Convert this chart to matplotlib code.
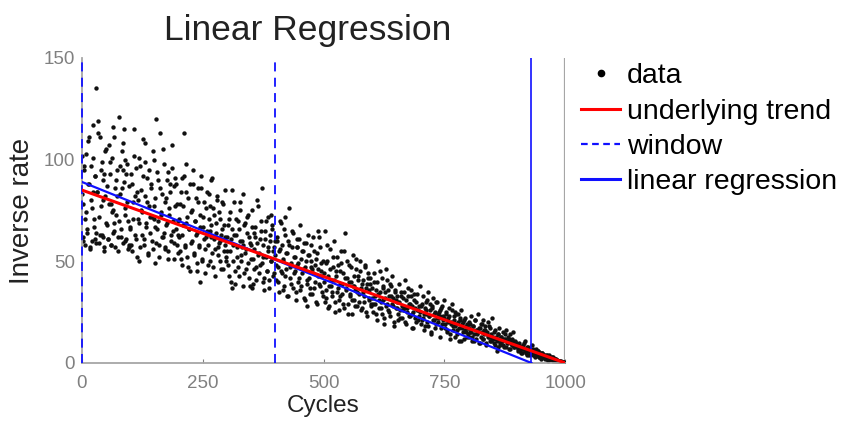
import matplotlib
matplotlib.use("Agg")
import matplotlib.pyplot as plt
from matplotlib.lines import Line2D

plt.rcParams['font.family'] = ['Liberation Sans', 'DejaVu Sans']

# scatter data (cycles, inverse rate)
x_0_100 = [2, 4, 6, 8, 9, 11, 13, 14, 16, 18, 19, 21, 23, 25, 27, 28, 30, 32, 33, 35,
           37, 39, 41, 42, 44, 46, 48, 50, 51, 53, 55, 57, 59, 60, 62, 64, 66, 68, 69, 71,
           73, 75, 77, 78, 80, 82, 84, 86, 87, 89, 91, 93, 95, 96, 98, 3, 27, 45, 66, 88,
           0, 3, 5, 7, 10, 12, 15, 17, 20, 22, 24, 26, 29, 31, 34, 36, 38, 40, 43, 45,
           47, 49, 52, 54, 56, 58, 61, 63, 65, 67, 70, 72, 74, 76, 79, 81, 83, 85, 88, 90,
           92, 94, 97, 99, 1, 22, 43, 64, 85, 97]
y_0_100 = [62, 95, 58, 103, 74, 66, 88, 111, 57, 80, 97, 60, 117, 71, 92, 135, 64, 84, 119, 59,
           111, 77, 99, 63, 90, 55, 82, 105, 68, 61, 107, 93, 58, 78, 101, 64, 111, 86, 57, 73,
           95, 62, 121, 83, 66, 104, 59, 89, 115, 76, 61, 98, 70, 56, 87, 78, 61, 93, 69, 100,
           83, 60, 97, 71, 64, 109, 88, 56, 76, 101, 67, 92, 59, 84, 113, 72, 63, 95, 80, 57,
           104, 69, 87, 61, 78, 99, 58, 74, 116, 65, 90, 82, 55, 70, 97, 62, 86, 108, 73, 60,
           93, 79, 57, 67, 102, 84, 62, 75, 95, 58]

x_100_200 = [101, 103, 105, 107, 109, 111, 113, 115, 117, 119, 121, 123, 125, 127, 129, 131, 133, 135, 137, 139,
             141, 143, 145, 147, 149, 151, 153, 155, 157, 159, 161, 163, 165, 167, 169, 171, 173, 175, 177, 179,
             181, 183, 185, 187, 189, 191, 193, 195, 197, 199, 110, 130, 150, 170, 190,
             100, 102, 104, 106, 108, 112, 114, 116, 118, 120, 122, 124, 126, 128, 131, 132, 134, 136, 138, 140,
             142, 144, 146, 148, 151, 152, 154, 156, 158, 160, 162, 164, 166, 168, 171, 172, 174, 176, 178, 180,
             182, 184, 186, 188, 191, 192, 194, 196, 198, 199]
y_100_200 = [58, 88, 71, 115, 63, 96, 52, 80, 69, 101, 57, 85, 74, 92, 61, 108, 67, 79, 54, 95,
             72, 86, 60, 104, 77, 49, 120, 66, 90, 58, 113, 73, 83, 62, 98, 56, 81, 69, 94, 51,
             76, 88, 63, 107, 70, 59, 91, 66, 78, 54, 82, 99, 71, 64, 87,
             66, 93, 55, 79, 102, 61, 84, 71, 50, 97, 75, 63, 110, 58, 82, 69, 91, 53, 77, 64,
             88, 72, 56, 100, 67, 81, 59, 94, 70, 52, 86, 74, 62, 105, 57, 79, 68, 90, 55, 73,
             84, 60, 96, 65, 51, 77, 88, 58, 70, 63]

x_200_300 = [201, 203, 205, 207, 209, 211, 213, 215, 217, 219, 221, 223, 225, 227, 229, 231, 233, 235, 237, 239,
             241, 243, 245, 247, 249, 251, 253, 255, 257, 259, 261, 263, 265, 267, 269, 271, 273, 275, 277, 279,
             281, 283, 285, 287, 289, 291, 293, 295, 297, 299, 215, 245, 265, 285,
             200, 202, 204, 206, 208, 210, 212, 214, 216, 218, 220, 222, 224, 226, 228, 230, 232, 234, 236, 238,
             240, 242, 244, 246, 248, 250, 252, 254, 256, 258, 260, 262, 264, 266, 268, 270, 272, 274, 276, 278,
             280, 282, 284, 286, 288, 290, 292, 294, 296, 298]
y_200_300 = [62, 78, 51, 91, 68, 113, 57, 84, 72, 47, 66, 88, 59, 75, 95, 53, 70, 81, 45, 64,
             86, 58, 73, 92, 50, 67, 79, 56, 62, 84, 48, 71, 65, 90, 54, 76, 61, 43, 69, 82,
             57, 74, 50, 63, 79, 46, 68, 58, 85, 52, 98, 40, 77, 60,
             71, 55, 84, 63, 48, 77, 92, 58, 69, 52, 81, 66, 45, 74, 60, 88, 54, 70, 63, 49,
             79, 57, 67, 86, 51, 72, 61, 44, 76, 65, 58, 83, 50, 68, 62, 91, 47, 73, 56, 64,
             80, 53, 59, 71, 46, 66, 78, 55, 62, 50]

x_300_400 = [301, 303, 305, 307, 309, 311, 313, 315, 317, 319, 321, 323, 325, 327, 329, 331, 333, 335, 337, 339,
             341, 343, 345, 347, 349, 351, 353, 355, 357, 359, 361, 363, 365, 367, 369, 371, 373, 375, 377, 379,
             381, 383, 385, 387, 389, 391, 393, 395, 397, 399, 310, 334, 352, 374, 392,
             300, 302, 304, 306, 308, 310, 312, 314, 316, 318, 320, 322, 324, 326, 328, 330, 332, 334, 336, 338,
             340, 342, 344, 346, 348, 350, 352, 354, 356, 358, 360, 362, 364, 366, 368, 370, 372, 374, 376, 378,
             380, 382, 384, 386, 388, 390, 392, 394, 396, 398]
y_300_400 = [55, 68, 43, 74, 61, 85, 50, 63, 39, 71, 57, 47, 66, 79, 53, 60, 83, 44, 69, 56,
             72, 49, 62, 38, 58, 75, 51, 64, 46, 67, 41, 59, 77, 54, 48, 65, 86, 52, 42, 61,
             70, 45, 57, 37, 63, 50, 68, 55, 44, 60, 37, 58, 37, 40, 73,
             62, 48, 71, 55, 40, 66, 58, 79, 45, 63, 52, 70, 43, 60, 75, 50, 57, 38, 68, 54,
             46, 64, 73, 42, 59, 51, 67, 39, 56, 62, 47, 80, 53, 44, 61, 70, 49, 58, 36, 65,
             52, 45, 72, 55, 41, 60, 50, 66, 43, 57]

x_400_500 = [401, 403, 405, 407, 409, 411, 413, 415, 417, 419, 421, 423, 425, 427, 429, 431, 433, 435, 437, 439,
             441, 443, 445, 447, 449, 451, 453, 455, 457, 459, 461, 463, 465, 467, 469, 471, 473, 475, 477, 479,
             481, 483, 485, 487, 489, 491, 493, 495, 497, 499, 420, 444, 466, 488,
             400, 402, 404, 406, 408, 410, 412, 414, 416, 418, 420, 422, 424, 426, 428, 430, 432, 434, 436, 438,
             440, 442, 444, 446, 448, 450, 452, 454, 456, 458, 460, 462, 464, 466, 468, 470, 472, 474, 476, 478,
             480, 482, 484, 486, 488, 490, 492, 494, 496, 498]
y_400_500 = [48, 62, 40, 55, 70, 45, 58, 36, 51, 66, 43, 54, 33, 60, 76, 47, 39, 57, 64, 44,
             52, 35, 61, 49, 42, 68, 38, 55, 46, 59, 31, 50, 41, 63, 53, 37, 47, 58, 34, 44,
             55, 40, 51, 29, 46, 62, 38, 49, 43, 33, 72, 57, 28, 65,
             53, 41, 60, 47, 35, 56, 69, 44, 50, 38, 63, 46, 54, 33, 58, 42, 49, 65, 37, 52,
             45, 31, 57, 48, 40, 61, 36, 51, 44, 55, 32, 47, 59, 39, 53, 42, 34, 50, 46, 62,
             37, 48, 30, 54, 43, 39, 57, 45, 35, 50]

x_500_600 = [501, 503, 505, 507, 509, 511, 513, 515, 517, 519, 521, 523, 525, 527, 529, 531, 533, 535, 537, 539,
             541, 543, 545, 547, 549, 551, 553, 555, 557, 559, 561, 563, 565, 567, 569, 571, 573, 575, 577, 579,
             581, 583, 585, 587, 589, 591, 593, 595, 597, 599,
             500, 502, 504, 506, 508, 510, 512, 514, 516, 518, 520, 522, 524, 526, 528, 530, 532, 534, 536, 538,
             540, 542, 544, 546, 548, 550, 552, 554, 556, 558, 560, 562, 564, 566, 568, 570, 572, 574, 576, 578,
             580, 582, 584, 586, 588, 590, 592, 594, 596, 598]
y_500_600 = [44, 65, 32, 50, 27, 38, 56, 41, 35, 47, 60, 30, 43, 52, 37, 26, 45, 33, 49, 39,
             29, 55, 64, 36, 42, 24, 48, 34, 40, 31, 53, 38, 28, 46, 35, 43, 30, 50, 37, 27,
             41, 33, 47, 25, 39, 44, 31, 36, 42, 29,
             40, 30, 49, 36, 58, 43, 28, 46, 38, 33, 52, 41, 25, 45, 35, 48, 31, 39, 55, 34,
             44, 27, 42, 37, 50, 29, 40, 33, 47, 24, 38, 43, 31, 36, 51, 28, 41, 34, 45, 26,
             39, 35, 30, 48, 37, 23, 42, 32, 39, 28]

x_600_700 = [601, 603, 605, 607, 609, 611, 613, 615, 617, 619, 621, 623, 625, 627, 629, 631, 633, 635, 637, 639,
             641, 643, 645, 647, 649, 651, 653, 655, 657, 659, 661, 663, 665, 667, 669, 671, 673, 675, 677, 679,
             681, 683, 685, 687, 689, 691, 693, 695, 697, 699,
             600, 602, 604, 606, 608, 610, 612, 614, 616, 618, 620, 622, 624, 626, 628, 630, 632, 634, 636, 638,
             640, 642, 644, 646, 648, 650, 652, 654, 656, 658, 660, 662, 664, 666, 668, 670, 672, 674, 676, 678,
             680, 682, 684, 686, 688, 690, 692, 694, 696, 698]
y_600_700 = [37, 29, 44, 33, 24, 40, 50, 31, 35, 27, 42, 38, 22, 32, 46, 29, 36, 25, 39, 33,
             43, 28, 20, 35, 31, 33, 27, 21, 30, 26, 35, 22, 32, 27, 41, 19, 25, 33, 29, 23,
             36, 24, 17, 31, 27, 20, 34, 26, 23, 38,
             32, 25, 40, 29, 36, 21, 34, 27, 45, 30, 24, 37, 31, 19, 35, 28, 41, 26, 33, 23,
             38, 29, 32, 18, 36, 27, 30, 24, 39, 22, 33, 28, 26, 35, 20, 31, 27, 37, 23, 29,
             33, 17, 28, 25, 34, 22, 30, 26, 21, 28]

x_700_800 = [701, 703, 705, 707, 709, 711, 713, 715, 717, 719, 721, 723, 725, 727, 729, 731, 733, 735, 737, 739,
             741, 743, 745, 747, 749, 751, 753, 755, 757, 759, 761, 763, 765, 767, 769, 771, 773, 775, 777, 779,
             781, 783, 785, 787, 789, 791, 793, 795, 797, 799,
             700, 702, 704, 706, 708, 710, 712, 714, 716, 718, 720, 722, 724, 726, 728, 730, 732, 734, 736, 738,
             740, 742, 744, 746, 748, 750, 752, 754, 756, 758, 760, 762, 764, 766, 768, 770, 772, 774, 776, 778,
             780, 782, 784, 786, 788, 790, 792, 794, 796, 798]
y_700_800 = [28, 21, 33, 24, 18, 30, 26, 20, 35, 23, 29, 15, 27, 32, 21, 25, 19, 30, 24, 22,
             26, 17, 28, 23, 31, 19, 24, 16, 22, 27, 14, 20, 29, 18, 23, 13, 25, 19, 16, 24,
             11, 21, 26, 17, 20, 12, 22, 15, 19, 14,
             25, 19, 29, 22, 16, 27, 24, 31, 18, 23, 26, 14, 28, 21, 24, 17, 30, 22, 20, 25,
             13, 23, 27, 19, 21, 22, 17, 25, 15, 20, 23, 12, 19, 26, 16, 21, 18, 24, 14, 20,
             17, 22, 11, 19, 15, 21, 16, 18, 13, 17]

x_800_900 = [801, 803, 805, 807, 809, 811, 813, 815, 817, 819, 821, 823, 825, 827, 829, 831, 833, 835, 837, 839,
             841, 843, 845, 847, 849, 851, 853, 855, 857, 859, 861, 863, 865, 867, 869, 871, 873, 875, 877, 879,
             881, 883, 885, 887, 889, 891, 893, 895, 897, 899,
             800, 802, 804, 806, 808, 810, 812, 814, 816, 818, 820, 822, 824, 826, 828, 830, 832, 834, 836, 838,
             840, 842, 844, 846, 848, 850, 852, 854, 856, 858, 860, 862, 864, 866, 868, 870, 872, 874, 876, 878,
             880, 882, 884, 886, 888, 890, 892, 894, 896, 898]
y_800_900 = [20, 15, 23, 13, 18, 11, 21, 16, 14, 24, 17, 10, 19, 15, 12, 21, 16, 18, 9, 14,
             20, 13, 17, 11, 22, 13, 10, 16, 12, 6, 14, 17, 9, 13, 11, 15, 8, 12, 16, 10,
             13, 7, 14, 11, 9, 12, 15, 8, 11, 10,
             17, 13, 19, 15, 11, 18, 14, 21, 12, 16, 15, 10, 17, 13, 19, 12, 14, 16, 10, 15,
             13, 18, 11, 14, 12, 12, 15, 9, 13, 11, 14, 8, 12, 10, 13, 11, 9, 12, 14, 8,
             11, 10, 12, 7, 10, 9, 11, 8, 9, 10]

x_900_1000 = [901, 903, 905, 907, 909, 911, 913, 915, 917, 919, 921, 923, 925, 927, 929, 931, 933, 935, 937, 939,
              941, 943, 945, 947, 949, 951, 953, 955, 957, 959, 961, 963, 965, 967, 969, 971, 973, 975, 977, 979,
              981, 983, 985, 987, 989, 991, 993, 995, 997, 999,
              900, 902, 904, 906, 908, 910, 912, 914, 916, 918, 920, 922, 924, 926, 928, 930, 932, 934, 936, 938,
              940, 942, 944, 946, 948, 950, 952, 954, 956, 958, 960, 962, 964, 966, 968, 970, 972, 974, 976, 978,
              980, 982, 984, 986, 988, 990, 992, 994, 996, 998]
y_900_1000 = [9, 7, 10, 6, 8, 5, 9, 7, 11, 6, 4, 8, 6, 7, 5, 9, 4, 6, 3, 7,
              5, 6, 3, 5, 4, 2, 5, 3, 4, 2, 3, 4, 1, 3, 2, 2, 3, 1, 2, 1,
              2, 1, 1, 1, 0.5, 1, 0.5, 0.5, 0.3, 0.2,
              8, 6, 9, 7, 5, 8, 7, 10, 6, 7, 5, 8, 6, 4, 7, 6, 5, 7, 4, 6,
              5, 4, 6, 3, 5, 4, 5, 3, 4, 3, 4, 2, 3, 4, 2, 3, 2, 3, 1.5, 2,
              2, 1, 1.5, 1, 1, 0.8, 0.6, 0.4, 0.3, 0]

# lines
trend_x = [0, 1000]
trend_y = [85, 0]
regression_x = [0, 930]
regression_y = [89, 0]
window_edges = [0, 400]
eol_predicted = 930
eol_true = 1000

cycles = (x_0_100 + x_100_200 + x_200_300 + x_300_400 + x_400_500 +
          x_500_600 + x_600_700 + x_700_800 + x_800_900 + x_900_1000)
inverse_rate = (y_0_100 + y_100_200 + y_200_300 + y_300_400 + y_400_500 +
                y_500_600 + y_600_700 + y_700_800 + y_800_900 + y_900_1000)

fig = plt.figure(figsize=(8.41, 4.23), dpi=100)
ax = fig.add_axes([0.0975, 0.142, 0.5745, 0.721])

gray = '#808080'
blue = '#1010ff'

ax.scatter(cycles, inverse_rate, s=10, color='#111111', linewidths=0, zorder=2)
ax.plot(trend_x, trend_y, color='red', lw=2.2, zorder=4)
ax.plot(regression_x, regression_y, color=blue, lw=1.6, zorder=3)
ax.plot([eol_predicted, eol_predicted], [0, 150], color=blue, lw=1.2, zorder=3)
for w in window_edges:
    ax.plot([w, w], [0, 150], color=blue, lw=1.3, ls=(0, (5, 3.5)), zorder=3, clip_on=False)
ax.plot([eol_true, eol_true], [0, 150], color='#a6a6a6', lw=1.6, zorder=1)

ax.set_xlim(0, 1000)
ax.set_ylim(0, 150)
ax.set_xticks([0, 250, 500, 750, 1000])
ax.set_yticks([0, 50, 100, 150])
ax.tick_params(direction='in', length=3, colors=gray, labelsize=13.5)
ax.tick_params(axis='x', pad=9)
ax.tick_params(axis='y', length=0, pad=5)
for side in ['top', 'right']:
    ax.spines[side].set_visible(False)
for side in ['left', 'bottom']:
    ax.spines[side].set_color('#a6a6a6')
    ax.spines[side].set_linewidth(1.3)

ax.set_xlabel('Cycles', fontsize=17.5, color='#222222', labelpad=2)
ax.set_ylabel('Inverse rate', fontsize=20, color='#222222', labelpad=6)
ax.set_title('Linear Regression', fontsize=25.5, color='#222222', x=0.468, pad=13)

handles = [
    Line2D([], [], ls='none', marker='o', color='black', markersize=4.5),
    Line2D([], [], color='red', lw=2.2),
    Line2D([], [], color=blue, lw=1.6, ls=(0, (3, 2))),
    Line2D([], [], color=blue, lw=2.2),
]
labels = ['data', 'underlying trend', 'window', 'linear regression']
ax.legend(handles, labels, loc='upper left', bbox_to_anchor=(1.01, 1.02),
          frameon=False, fontsize=20.5, handlelength=1.35, handletextpad=0.25,
          labelspacing=0.33, borderaxespad=0)

fig.savefig('out.png', dpi=100)
